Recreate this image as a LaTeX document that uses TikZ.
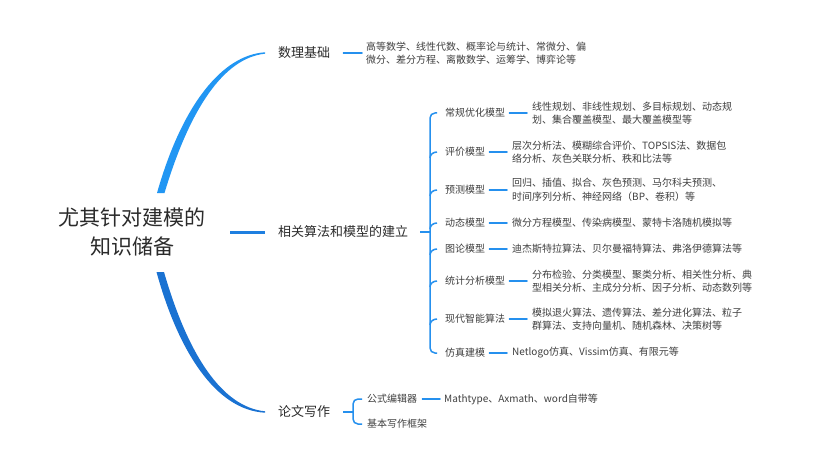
\documentclass[tikz,border=0pt]{standalone}
\usepackage{fontspec}
\setmainfont{Noto Sans CJK SC}
\definecolor{topblue}{HTML}{2196F3}
\definecolor{botblue}{HTML}{1A72D2}
\definecolor{midblue}{HTML}{1E7FE0}
\definecolor{lineblue}{HTML}{2590EE}
\definecolor{txtmain}{HTML}{2B2B2B}
\definecolor{txtsub}{HTML}{404040}
\tikzset{
  rootlbl/.style={inner sep=0pt, align=center, text=txtmain, font=\fontsize{21}{29}\selectfont},
  lvlone/.style={anchor=west, inner sep=0pt, text=txtmain, font=\fontsize{13}{16}\selectfont},
  lvltwo/.style={anchor=west, inner sep=0pt, text=txtsub, font=\fontsize{10}{13}\selectfont},
  desc/.style={anchor=west, inner sep=0pt, align=left, text=txtsub, font=\fontsize{10}{13.5}\selectfont},
  conn/.style={draw=lineblue, line width=1.6pt, line cap=round},
  brack/.style={draw=lineblue, line width=1.5pt, rounded corners=5pt},
}
\begin{document}
\begin{tikzpicture}[x=1pt,y=-1pt]
\useasboundingbox (0,0) rectangle (829,473);
\fill[white] (0,0) rectangle (829,473);

% root
\node[rootlbl] (root) at (132,232) {尤其针对建模的\\知识储备};
\coordinate (rtop) at (160.5,193);
\coordinate (rbot) at (160.5,272);
\coordinate (rmid) at (230,232);

% level one
\node[lvlone] (a) at (278,53) {数理基础};
\node[lvlone] (b) at (278,232) {相关算法和模型的建立};
\node[lvlone] (c) at (278,412) {论文写作};

% main curves (tapered)
\fill[topblue] (157,193) .. controls (182,105) and (222,55) .. (265,52.3)
  -- (265,53.7) .. controls (224,58) and (190,108) .. (164.5,193) -- cycle;
\fill[botblue] (156.5,272) .. controls (178,350) and (215,410) .. (265,412.7)
  -- (265,411.3) .. controls (222,407) and (188,355) .. (164,272) -- cycle;
\draw[midblue, line width=3pt] (rmid) -- ([xshift=-13pt]b.west);

% 数理基础
\node[desc] (ad) at (366,53) {高等数学、线性代数、概率论与统计、常微分、偏\\微分、差分方程、离散数学、运筹学、博弈论等};
\draw[conn] ([xshift=13pt]a.east) -- ([xshift=-4pt]ad.west);

% 相关算法和模型的建立
\coordinate (bj) at (430,232);
\draw[conn, line cap=butt] ([xshift=12pt]b.east) -- (bj);
\node[lvltwo] (b1) at (445,113) {常规优化模型};
\node[lvltwo] (b2) at (445,152) {评价模型};
\node[lvltwo] (b3) at (445,190) {预测模型};
\node[lvltwo] (b4) at (445,223) {动态模型};
\node[lvltwo] (b5) at (445,249) {图论模型};
\node[lvltwo] (b6) at (445,281) {统计分析模型};
\node[lvltwo] (b7) at (445,319) {现代智能算法};
\node[lvltwo] (b8) at (445,353) {仿真建模};

\draw[brack] ([xshift=-8pt]b1.west) -- (430,113) -- (430,353) -- ([xshift=-8pt]b8.west);
\foreach \n/\y in {b2/152,b3/190,b4/223,b5/249,b6/281,b7/319}{
  \draw[draw=lineblue, line width=1.5pt] (430,\y+6) to[out=-90+180,in=180] ([xshift=-8pt]\n.west);
}

\node[desc] (b1d) at (532,113) {线性规划、非线性规划、多目标规划、动态规\\划、集合覆盖模型、最大覆盖模型等};
\node[desc] (b2d) at (512,152) {层次分析法、模糊综合评价、TOPSIS法、数据包\\络分析、灰色关联分析、秩和比法等};
\node[desc] (b3d) at (512,190) {回归、插值、拟合、灰色预测、马尔科夫预测、\\时间序列分析、神经网络（BP、卷积）等};
\node[desc] (b4d) at (512,223) {微分方程模型、传染病模型、蒙特卡洛随机模拟等};
\node[desc] (b5d) at (512,249) {迪杰斯特拉算法、贝尔曼福特算法、弗洛伊德算法等};
\node[desc] (b6d) at (532,281) {分布检验、分类模型、聚类分析、相关性分析、典\\型相关分析、主成分分析、因子分析、动态数列等};
\node[desc] (b7d) at (532,319) {模拟退火算法、遗传算法、差分进化算法、粒子\\群算法、支持向量机、随机森林、决策树等};
\node[desc] (b8d) at (512,353) {Netlogo仿真、Vissim仿真、有限元等};
\foreach \n in {1,...,8}{
  \draw[conn] ([xshift=4pt]b\n.east) -- ([xshift=-5pt]b\n d.west);
}

% 论文写作
\coordinate (cj) at (353,412);
\draw[conn, line cap=butt] ([xshift=13pt]c.east) -- (cj);
\node[lvltwo] (c1) at (367,399) {公式编辑器};
\node[lvltwo] (c2) at (367,424) {基本写作框架};
\draw[brack] ([xshift=-5pt]c1.west) -- (353,399) -- (353,424) -- ([xshift=-5pt]c2.west);
\node[desc] (c1d) at (444,399) {Mathtype、Axmath、word自带等};
\draw[conn] ([xshift=5pt]c1.east) -- ([xshift=-4pt]c1d.west);
\end{tikzpicture}
\end{document}
